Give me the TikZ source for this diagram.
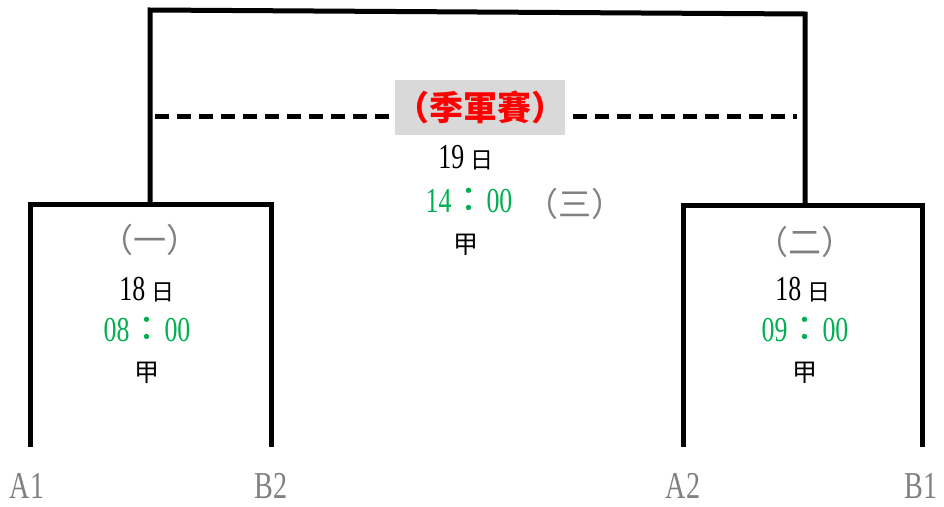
\documentclass[tikz,border=0pt]{standalone}
\usepackage{fontspec}
\setmainfont[FakeStretch=0.74]{Liberation Serif}
\newfontfamily\cjk{Noto Sans CJK TC}
\definecolor{timegreen}{HTML}{00B050}
\definecolor{seedgray}{HTML}{808080}
\definecolor{titlebg}{HTML}{D9D9D9}
\tikzset{
  bracket/.style={draw, line width=5pt},
  dayinfo/.style={inner sep=0pt, font=\fontsize{35}{35}\selectfont},
  timeinfo/.style={inner sep=0pt, text=timegreen, font=\fontsize{35}{35}\selectfont},
  courtinfo/.style={inner sep=0pt, font=\cjk\fontsize{25}{25}\selectfont},
  gameno/.style={inner sep=0pt, text=seedgray, font=\cjk\fontsize{33}{33}\selectfont},
  team/.style={inner sep=0pt, text=seedgray, font=\fontsize{38}{38}\selectfont}
}
\newcommand{\ri}{{\cjk\fontsize{23}{23}\selectfont 日}}
\begin{document}
\begin{tikzpicture}[x=1pt, y=-1pt]
\useasboundingbox (0,0) rectangle (944,506);

% left match
\coordinate (a1) at (30,447);
\coordinate (b2) at (271,447);
\path[bracket] (a1) |- (150,204) -| (b2);

% right match
\coordinate (a2) at (683,447);
\coordinate (b1) at (922,447);
\path[bracket] (a2) |- (805,205) -| (b1);

% final
\coordinate (s1) at (150,204);
\coordinate (s2) at (805,205);
\coordinate (t1) at (150,10);
\coordinate (t2) at (805,14);
\path[bracket] (s1) -- (t1) -- (t2) -- (s2);

% third place
\coordinate (d1) at (155,116);
\coordinate (d2) at (797,116);
\path[draw, line width=5pt, dash pattern=on 14pt off 8pt] (d1) -- (d2);
\node[fill=titlebg, minimum width=170pt, minimum height=55pt, inner sep=0pt,
      text=red, font=\cjk\bfseries\fontsize{34}{34}\selectfont] (third) at (480,107) {（季軍賽）};

\node[dayinfo] (day3) at (466,158) {19 \ri};
\node[timeinfo] (time3) at (469,201) {14{\cjk：}00};
\node[gameno] (game3) at (575,204) {（三）};
\node[courtinfo] (court3) at (466,245) {甲};

\node[gameno] (game1) at (150,240) {（一）};
\node[dayinfo] (day1) at (147,290) {18 \ri};
\node[timeinfo] (time1) at (147,330) {08{\cjk：}00};
\node[courtinfo] (court1) at (147,373) {甲};

\node[gameno] (game2) at (805,242) {（二）};
\node[dayinfo] (day2) at (803,290) {18 \ri};
\node[timeinfo] (time2) at (805,330) {09{\cjk：}00};
\node[courtinfo] (court2) at (805,373) {甲};

\node[team] (ta1) at (27,486) {A1};
\node[team] (tb2) at (271,486) {B2};
\node[team] (ta2) at (683,486) {A2};
\node[team] (tb1) at (921,486) {B1};
\end{tikzpicture}
\end{document}
